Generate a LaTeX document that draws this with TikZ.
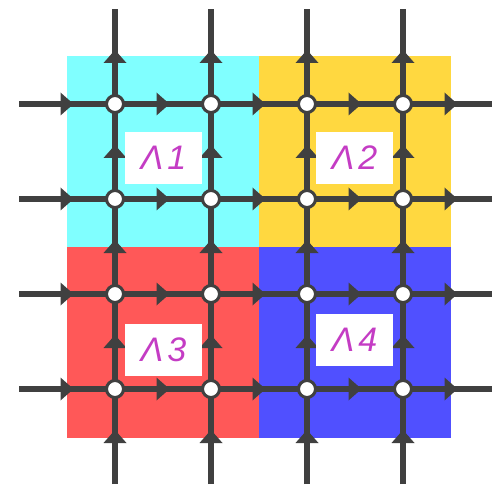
\documentclass[tikz,border=0pt]{standalone}
\usepackage{fontspec}
\newfontfamily\labfont{Liberation Sans}
\usetikzlibrary{decorations.markings}
\definecolor{cyanbg}{RGB}{128,255,255}
\definecolor{yellowbg}{RGB}{255,216,64}
\definecolor{redbg}{RGB}{255,88,88}
\definecolor{bluebg}{RGB}{80,80,255}
\definecolor{linec}{RGB}{64,64,64}
\definecolor{labc}{RGB}{196,60,196}
\begin{document}
\begin{tikzpicture}[x=1pt,y=-1pt,
  edge/.style={draw=linec, line width=6.5pt, postaction={decorate},
    decoration={markings, mark=at position 0.5 with {\fill[linec] (-6.5pt,-11.5pt) -- (6.5pt,0pt) -- (-6.5pt,11.5pt) -- cycle;}}},
  dot/.style={circle, draw=linec, line width=3pt, fill=white, minimum size=17pt, inner sep=0pt},
  lab/.style={fill=white, minimum width=77pt, minimum height=52pt, inner sep=0pt, text=labc,
    font=\labfont\itshape\fontsize{34}{34}\selectfont}]
\useasboundingbox (0,0) rectangle (492,486);
% background squares
\fill[cyanbg] (67,56) rectangle (259,247);
\fill[yellowbg] (259,56) rectangle (451,247);
\fill[redbg] (67,247) rectangle (259,438);
\fill[bluebg] (259,247) rectangle (451,438);
% grid coordinates
\foreach \i in {0,...,5}{
  \foreach \j in {0,...,5}{
    \coordinate (g-\i-\j) at ({19+96*\i},{9+95*\j});
  }
}
% horizontal segments (left to right)
\foreach \j in {1,...,4}{
  \foreach \i [evaluate=\i as \ni using int(\i+1)] in {0,...,4}{
    \draw[edge] (g-\i-\j) -- (g-\ni-\j);
  }
}
% vertical segments (bottom to top)
\foreach \i in {1,...,4}{
  \foreach \j [evaluate=\j as \nj using int(\j-1)] in {5,4,3,2,1}{
    \draw[edge] (g-\i-\j) -- (g-\i-\nj);
  }
}
% junction nodes
\foreach \i in {1,...,4}{
  \foreach \j in {1,...,4}{
    \node[dot] (n-\i-\j) at (g-\i-\j) {};
  }
}
% labels
\node[lab] (l1) at (163.5,158) {Λ\kern4pt 1};
\node[lab] (l2) at (354.5,158) {Λ\kern4pt 2};
\node[lab] (l3) at (163.5,349.5) {Λ\kern4pt 3};
\node[lab] (l4) at (354.5,339.5) {Λ\kern4pt 4};
\end{tikzpicture}
\end{document}
